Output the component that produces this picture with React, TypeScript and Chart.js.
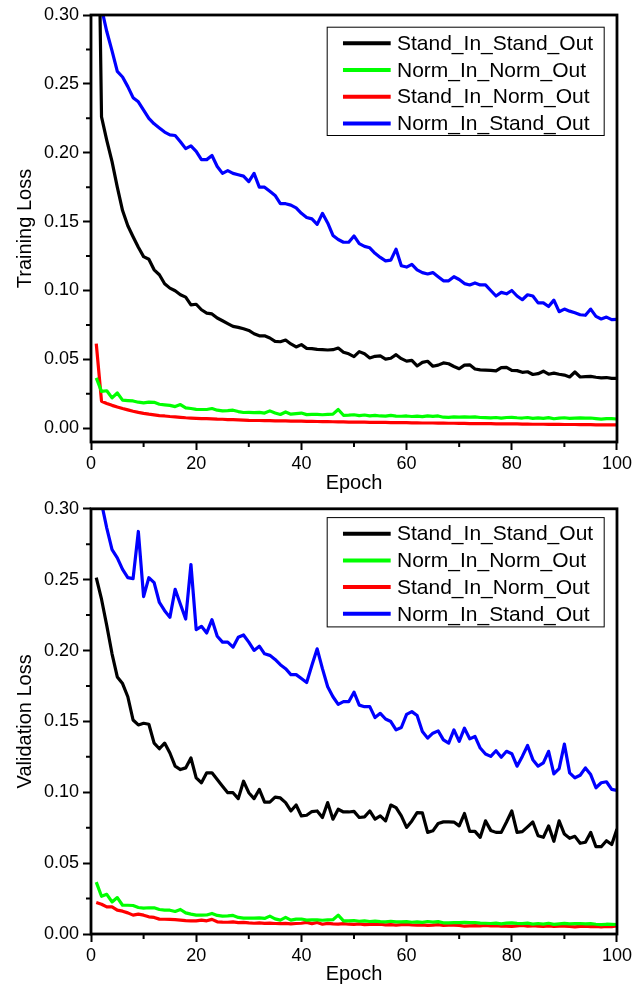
import React, { useEffect, useRef } from "react";
import { Chart, registerables } from "chart.js";

Chart.register(...registerables);

const FONT = '"Liberation Sans", Arial, Helvetica, sans-serif';

const EPOCHS = [
  1, 2, 3, 4, 5, 6, 7, 8, 9, 10, 11, 12, 13, 14, 15, 16, 17, 18, 19, 20,
  21, 22, 23, 24, 25, 26, 27, 28, 29, 30, 31, 32, 33, 34, 35, 36, 37, 38, 39, 40,
  41, 42, 43, 44, 45, 46, 47, 48, 49, 50, 51, 52, 53, 54, 55, 56, 57, 58, 59, 60,
  61, 62, 63, 64, 65, 66, 67, 68, 69, 70, 71, 72, 73, 74, 75, 76, 77, 78, 79, 80,
  81, 82, 83, 84, 85, 86, 87, 88, 89, 90, 91, 92, 93, 94, 95, 96, 97, 98, 99, 100,
];

const SERIES_LABELS = [
  "Stand_In_Stand_Out",
  "Norm_In_Norm_Out",
  "Stand_In_Norm_Out",
  "Norm_In_Stand_Out",
];
const SERIES_COLORS = ["#000000", "#00ff00", "#ff0000", "#0000ff"];

const X_TICKS = [0, 20, 40, 60, 80, 100];
const Y_TICKS = [0, 0.05, 0.1, 0.15, 0.2, 0.25, 0.3];

// ---- Training loss ----
const TRAIN_STAND_STAND = [
  0.49, 0.226, 0.209, 0.1935, 0.175, 0.158, 0.147, 0.139, 0.1314, 0.1246,
  0.1227, 0.115, 0.1114, 0.1049, 0.1017, 0.0998, 0.0969, 0.0952, 0.0896, 0.09,
  0.086, 0.0836, 0.083, 0.08, 0.078, 0.0759, 0.0739, 0.0732, 0.0722, 0.071,
  0.0686, 0.0671, 0.0671, 0.0655, 0.063, 0.0628, 0.064, 0.0612, 0.059, 0.0607,
  0.058, 0.0578, 0.0572, 0.057, 0.0568, 0.057, 0.0582, 0.0552, 0.054, 0.052,
  0.0556, 0.054, 0.051, 0.0522, 0.0525, 0.0502, 0.0508, 0.0534, 0.0505, 0.0487,
  0.0492, 0.0452, 0.0478, 0.0486, 0.045, 0.0458, 0.0474, 0.0468, 0.0448, 0.0432,
  0.0458, 0.046, 0.043, 0.0424, 0.0422, 0.042, 0.0416, 0.044, 0.0442, 0.042,
  0.0418, 0.0406, 0.041, 0.039, 0.0396, 0.0414, 0.0392, 0.04, 0.0392, 0.0386,
  0.0372, 0.0408, 0.0372, 0.0374, 0.0376, 0.037, 0.0366, 0.0368, 0.0362, 0.0362,
];
const TRAIN_NORM_NORM = [
  0.0365, 0.0268, 0.0272, 0.022, 0.0256, 0.0204, 0.0201, 0.0198, 0.0189, 0.0184,
  0.0189, 0.0188, 0.0174, 0.017, 0.0166, 0.0157, 0.0172, 0.0148, 0.0143, 0.0137,
  0.0136, 0.0136, 0.0143, 0.0131, 0.0126, 0.0128, 0.0131, 0.0121, 0.0114, 0.0115,
  0.0113, 0.0115, 0.011, 0.0126, 0.011, 0.01, 0.0118, 0.0102, 0.0106, 0.011,
  0.0099, 0.0101, 0.01, 0.0098, 0.01, 0.0102, 0.0136, 0.0094, 0.0095, 0.0098,
  0.0092, 0.0096, 0.009, 0.0093, 0.0089, 0.0088, 0.0093, 0.0088, 0.0087, 0.0089,
  0.0085, 0.0088, 0.0084, 0.009, 0.0086, 0.0089, 0.008, 0.0079, 0.0082, 0.0081,
  0.0083, 0.0081, 0.0083, 0.0078, 0.0077, 0.0075, 0.0078, 0.0073, 0.0078, 0.0079,
  0.0076, 0.0074, 0.0078, 0.0071, 0.0075, 0.0071, 0.0077, 0.0069, 0.0073, 0.0076,
  0.0072, 0.0074, 0.0075, 0.0073, 0.0074, 0.007, 0.0066, 0.007, 0.0069, 0.0067,
];
const TRAIN_STAND_NORM = [
  0.0614, 0.0196, 0.018, 0.0166, 0.0154, 0.0143, 0.0133, 0.0123, 0.0115, 0.0108,
  0.0102, 0.0097, 0.0092, 0.0089, 0.0085, 0.0082, 0.0079, 0.0076, 0.0074, 0.0072,
  0.007, 0.0069, 0.0068, 0.0066, 0.0065, 0.0063, 0.0062, 0.0061, 0.0059, 0.0057,
  0.0056, 0.0056, 0.0055, 0.0055, 0.0054, 0.0053, 0.0053, 0.0052, 0.0051, 0.0051,
  0.005, 0.005, 0.0049, 0.0048, 0.0048, 0.0047, 0.0046, 0.0046, 0.0045, 0.0045,
  0.0044, 0.0044, 0.0043, 0.0043, 0.0042, 0.0042, 0.0041, 0.0041, 0.004, 0.004,
  0.0039, 0.0039, 0.0038, 0.0038, 0.0038, 0.0037, 0.0037, 0.0036, 0.0036, 0.0035,
  0.0035, 0.0034, 0.0034, 0.0034, 0.0033, 0.0033, 0.0032, 0.0032, 0.0031, 0.0031,
  0.0031, 0.003, 0.003, 0.0029, 0.0029, 0.0029, 0.0028, 0.0028, 0.0028, 0.0027,
  0.0027, 0.0027, 0.0026, 0.0026, 0.0026, 0.0025, 0.0025, 0.0025, 0.0025, 0.0024,
];
const TRAIN_NORM_STAND = [
  0.36, 0.305, 0.288, 0.274, 0.259, 0.255, 0.248, 0.24, 0.237, 0.231,
  0.225, 0.221, 0.218, 0.215, 0.213, 0.2125, 0.208, 0.203, 0.205, 0.201,
  0.195, 0.195, 0.198, 0.19, 0.185, 0.187, 0.185, 0.184, 0.183, 0.179,
  0.185, 0.175, 0.175, 0.172, 0.169, 0.163, 0.163, 0.162, 0.16, 0.156,
  0.153, 0.152, 0.148, 0.156, 0.149, 0.14, 0.137, 0.135, 0.135, 0.1396,
  0.134, 0.132, 0.131, 0.127, 0.124, 0.1215, 0.122, 0.13, 0.118, 0.117,
  0.119, 0.115, 0.113, 0.112, 0.113, 0.11, 0.107, 0.107, 0.11, 0.108,
  0.105, 0.104, 0.1055, 0.104, 0.104, 0.1, 0.096, 0.0986, 0.0976, 0.1,
  0.096, 0.0933, 0.0969, 0.096, 0.091, 0.091, 0.0884, 0.093, 0.0846, 0.0865,
  0.085, 0.0838, 0.0824, 0.082, 0.0865, 0.0812, 0.0793, 0.0807, 0.0788, 0.079,
];

// ---- Validation loss ----
const VAL_STAND_STAND = [
  0.2514, 0.2362, 0.2176, 0.1977, 0.1814, 0.1767, 0.1674, 0.151, 0.1475, 0.1487,
  0.148, 0.1347, 0.1307, 0.1347, 0.1277, 0.1184, 0.116, 0.1172, 0.1242, 0.1102,
  0.1067, 0.1137, 0.1137, 0.109, 0.1043, 0.0997, 0.0997, 0.0955, 0.1078, 0.0997,
  0.0955, 0.102, 0.0931, 0.0931, 0.0966, 0.096, 0.0927, 0.0868, 0.091, 0.0833,
  0.0838, 0.0864, 0.0868, 0.0822, 0.0927, 0.081, 0.088, 0.0861, 0.0861, 0.0865,
  0.0822, 0.0826, 0.0868, 0.081, 0.0833, 0.0798, 0.091, 0.0892, 0.0833, 0.0752,
  0.0798, 0.0857, 0.0855, 0.0717, 0.0728, 0.078, 0.0791, 0.0791, 0.079, 0.0763,
  0.085, 0.0724, 0.0724, 0.0682, 0.0798, 0.0731, 0.0717, 0.0717, 0.079, 0.0868,
  0.0717, 0.0722, 0.0756, 0.079, 0.0693, 0.0682, 0.0763, 0.0654, 0.0798, 0.0705,
  0.0675, 0.0689, 0.064, 0.0647, 0.0717, 0.0616, 0.0616, 0.0658, 0.0631, 0.074,
];
const VAL_NORM_NORM = [
  0.0366, 0.0266, 0.028, 0.0226, 0.0257, 0.0203, 0.0203, 0.0201, 0.0187, 0.0182,
  0.0185, 0.0185, 0.0173, 0.0168, 0.0168, 0.0159, 0.0173, 0.0149, 0.014, 0.0133,
  0.0133, 0.0134, 0.0145, 0.0131, 0.0126, 0.0128, 0.0131, 0.0117, 0.0112, 0.0113,
  0.0112, 0.0114, 0.011, 0.0126, 0.0107, 0.0098, 0.0117, 0.0098, 0.0105, 0.0106,
  0.0098, 0.01, 0.0099, 0.0097, 0.0099, 0.0101, 0.0133, 0.0093, 0.0092, 0.0095,
  0.009, 0.0093, 0.0088, 0.0091, 0.0087, 0.0086, 0.009, 0.0086, 0.0085, 0.0087,
  0.0083, 0.0086, 0.0082, 0.0088, 0.0084, 0.0087, 0.0079, 0.0078, 0.008, 0.008,
  0.0082, 0.008, 0.0081, 0.0077, 0.0076, 0.0074, 0.0077, 0.0072, 0.0077, 0.0078,
  0.0075, 0.0073, 0.0077, 0.007, 0.0074, 0.007, 0.0076, 0.0068, 0.0072, 0.0075,
  0.0071, 0.0073, 0.0074, 0.0072, 0.0073, 0.0069, 0.0066, 0.0069, 0.0068, 0.0067,
];
const VAL_STAND_NORM = [
  0.0222, 0.021, 0.0191, 0.0192, 0.0168, 0.0161, 0.0149, 0.0133, 0.014, 0.0133,
  0.0121, 0.0117, 0.0105, 0.0104, 0.0103, 0.0102, 0.0098, 0.0094, 0.0092, 0.0093,
  0.0098, 0.0093, 0.0103, 0.0086, 0.0084, 0.0083, 0.0085, 0.008, 0.0082, 0.0078,
  0.0076, 0.0078, 0.0075, 0.0077, 0.0074, 0.0073, 0.0075, 0.0072, 0.0074, 0.0076,
  0.0082, 0.0073, 0.0081, 0.0069, 0.0075, 0.0072, 0.007, 0.0073, 0.0069, 0.0068,
  0.0071, 0.0066, 0.0068, 0.0067, 0.0069, 0.0065, 0.0066, 0.0063, 0.0066, 0.0068,
  0.0064, 0.0062, 0.0065, 0.0061, 0.0063, 0.0066, 0.006, 0.0062, 0.0063, 0.0061,
  0.0055, 0.0057, 0.0059, 0.0058, 0.006, 0.0057, 0.0059, 0.0056, 0.0055, 0.0054,
  0.0057, 0.006, 0.0056, 0.0058, 0.0055, 0.0054, 0.0057, 0.0053, 0.0056, 0.0055,
  0.0053, 0.005, 0.0054, 0.0055, 0.0052, 0.0054, 0.005, 0.0053, 0.0051, 0.0057,
];
const VAL_NORM_STAND = [
  0.335, 0.304, 0.2864, 0.2712, 0.2654, 0.2572, 0.2514, 0.2507, 0.284, 0.238,
  0.2514, 0.2479, 0.2339, 0.2281, 0.2234, 0.2432, 0.2327, 0.2222, 0.2607, 0.2148,
  0.2171, 0.2124, 0.2218, 0.2101, 0.2059, 0.2059, 0.2024, 0.2094, 0.211, 0.2059,
  0.2001, 0.2031, 0.1977, 0.1966, 0.1937, 0.19, 0.1872, 0.183, 0.183, 0.1802,
  0.1774, 0.1896, 0.2012, 0.1872, 0.1744, 0.1674, 0.162, 0.1639, 0.1639, 0.1706,
  0.1615, 0.1604, 0.1604, 0.1527, 0.1557, 0.1517, 0.1499, 0.144, 0.1457, 0.155,
  0.1569, 0.1541, 0.1429, 0.1382, 0.1417, 0.1433, 0.137, 0.1347, 0.144, 0.1359,
  0.1452, 0.1377, 0.1394, 0.1312, 0.127, 0.1253, 0.1293, 0.1247, 0.1289, 0.1272,
  0.1184, 0.1253, 0.133, 0.123, 0.1184, 0.1207, 0.1289, 0.113, 0.1167, 0.134,
  0.1137, 0.1102, 0.112, 0.1172, 0.1125, 0.1032, 0.1067, 0.1074, 0.102, 0.1013,
];

type PanelSpec = {
  yTitle: string;
  series: number[][];
  yMin: number;
  padTop: number;
  xAxisHeight: number;
  xTitlePad: number;
  legendTop: number;
  legendHeight: number;
};

const PANELS: PanelSpec[] = [
  {
    yTitle: "Training Loss",
    series: [TRAIN_STAND_STAND, TRAIN_NORM_NORM, TRAIN_STAND_NORM, TRAIN_NORM_STAND],
    yMin: -0.01,
    padTop: 15,
    xAxisHeight: 52,
    xTitlePad: 1,
    legendTop: 11.7,
    legendHeight: 109.3,
  },
  {
    yTitle: "Validation Loss",
    series: [VAL_STAND_STAND, VAL_NORM_NORM, VAL_STAND_NORM, VAL_NORM_STAND],
    yMin: 0,
    padTop: 12,
    xAxisHeight: 54,
    xTitlePad: 4,
    legendTop: 8.3,
    legendHeight: 110.3,
  },
];

const framePlugin = {
  id: "frameAndLegend",
  afterDatasetsDraw(chart: any) {
    const { ctx, chartArea } = chart;
    const xs = chart.scales.x;
    const ys = chart.scales.y;
    ctx.save();
    ctx.strokeStyle = "#000";
    // minor ticks
    ctx.lineWidth = 2;
    ctx.beginPath();
    for (let i = 0; i < X_TICKS.length - 1; i++) {
      const px = xs.getPixelForValue((X_TICKS[i] + X_TICKS[i + 1]) / 2);
      ctx.moveTo(px, chartArea.bottom);
      ctx.lineTo(px, chartArea.bottom + 5);
    }
    for (let i = 0; i < Y_TICKS.length - 1; i++) {
      const py = ys.getPixelForValue((Y_TICKS[i] + Y_TICKS[i + 1]) / 2);
      ctx.moveTo(chartArea.left, py);
      ctx.lineTo(chartArea.left - 5, py);
    }
    ctx.stroke();
    // frame
    ctx.lineWidth = 2.8;
    ctx.strokeRect(
      chartArea.left,
      chartArea.top,
      chartArea.right - chartArea.left,
      chartArea.bottom - chartArea.top
    );
    ctx.restore();
  },
  afterDraw(chart: any, _args: any, opts: any) {
    const { ctx, chartArea } = chart;
    const boxW = 278;
    const boxRight = chartArea.right - 12.3;
    const boxLeft = boxRight - boxW;
    const boxTop = chartArea.top + opts.top;
    const boxH = opts.height;
    ctx.save();
    ctx.fillStyle = "#fff";
    ctx.fillRect(boxLeft, boxTop, boxW, boxH);
    ctx.strokeStyle = "#000";
    ctx.lineWidth = 1;
    ctx.strokeRect(boxLeft + 0.5, boxTop + 0.5, boxW - 1, boxH - 1);
    ctx.font = `21px ${FONT}`;
    ctx.textBaseline = "middle";
    ctx.textAlign = "left";
    chart.data.datasets.forEach((ds: any, i: number) => {
      const y = boxTop + 16.6 + i * 26.7;
      ctx.strokeStyle = ds.borderColor;
      ctx.lineWidth = 4;
      ctx.beginPath();
      ctx.moveTo(boxLeft + 16.3, y);
      ctx.lineTo(boxLeft + 64, y);
      ctx.stroke();
      ctx.fillStyle = "#000";
      ctx.fillText(ds.label, boxLeft + 70.3, y + 1);
    });
    ctx.restore();
  },
};

function makeConfig(p: PanelSpec): any {
  return {
    type: "line",
    data: {
      datasets: p.series.map((vals, i) => ({
        label: SERIES_LABELS[i],
        data: EPOCHS.map((e, j) => ({ x: e, y: vals[j] })),
        borderColor: SERIES_COLORS[i],
        backgroundColor: SERIES_COLORS[i],
        borderWidth: 3.2,
        pointRadius: 0,
        pointHoverRadius: 0,
        tension: 0,
        fill: false,
        borderJoinStyle: "round",
      })),
    },
    options: {
      responsive: false,
      animation: false,
      devicePixelRatio: 1,
      events: [],
      layout: { padding: { top: p.padTop, right: 17, left: 0, bottom: 0 } },
      plugins: {
        legend: { display: false },
        tooltip: { enabled: false },
        frameAndLegend: { top: p.legendTop, height: p.legendHeight },
      },
      scales: {
        x: {
          type: "linear",
          min: 0,
          max: 100,
          afterBuildTicks: (s: any) => {
            s.ticks = X_TICKS.map((v) => ({ value: v }));
          },
          afterFit: (s: any) => {
            s.height = p.xAxisHeight;
          },
          ticks: {
            color: "#000",
            font: { family: FONT, size: 18 },
            padding: 3,
            maxRotation: 0,
            autoSkip: false,
            callback: (v: any) => String(v),
          },
          grid: {
            drawOnChartArea: false,
            drawTicks: true,
            tickLength: 8,
            tickWidth: 2,
            tickColor: "#000",
          },
          border: { display: false },
          title: {
            display: true,
            text: "Epoch",
            color: "#000",
            font: { family: FONT, size: 20, lineHeight: 1 },
            padding: { top: 0, bottom: p.xTitlePad },
          },
        },
        y: {
          type: "linear",
          min: p.yMin,
          max: 0.3,
          afterBuildTicks: (s: any) => {
            s.ticks = Y_TICKS.map((v) => ({ value: v }));
          },
          afterFit: (s: any) => {
            s.width = 91;
          },
          ticks: {
            color: "#000",
            font: { family: FONT, size: 18 },
            padding: 4,
            autoSkip: false,
            callback: (v: any) => Number(v).toFixed(2),
          },
          grid: {
            drawOnChartArea: false,
            drawTicks: true,
            tickLength: 8,
            tickWidth: 2,
            tickColor: "#000",
          },
          border: { display: false },
          title: {
            display: true,
            text: p.yTitle,
            color: "#000",
            font: { family: FONT, size: 20, lineHeight: 1 },
            padding: { top: 15, bottom: 0 },
          },
        },
      },
    },
    plugins: [framePlugin],
  };
}

function Panel({ spec }: { spec: PanelSpec }) {
  const ref = useRef<HTMLCanvasElement>(null);
  useEffect(() => {
    if (!ref.current) return;
    const chart = new Chart(ref.current, makeConfig(spec));
    return () => chart.destroy();
  }, [spec]);
  return (
    <canvas
      ref={ref}
      width={635}
      height={494}
      style={{ display: "block", width: 635, height: 494 }}
    />
  );
}

export default function App() {
  return (
    <div
      style={{
        position: "absolute",
        left: 0,
        top: 0,
        width: 635,
        height: 988,
        background: "#fff",
      }}
    >
      {PANELS.map((p, i) => (
        <Panel key={i} spec={p} />
      ))}
    </div>
  );
}
